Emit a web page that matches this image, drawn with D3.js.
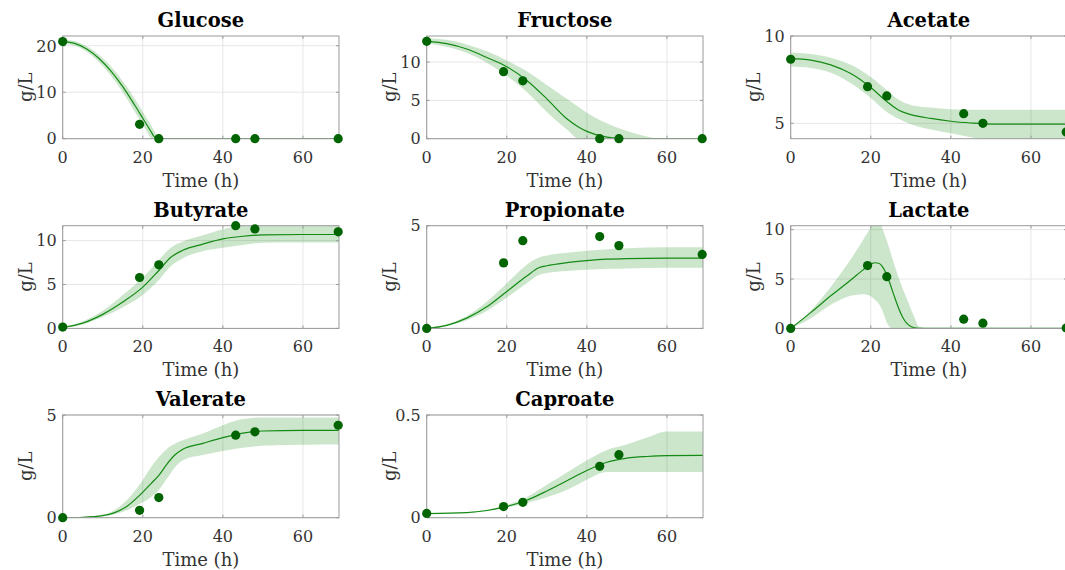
<!DOCTYPE html>
<html>
<head>
<meta charset="utf-8">
<script src="https://cdn.jsdelivr.net/npm/d3@7"></script>
<style>
  html, body { margin: 0; padding: 0; background: #fff; overflow: hidden; }
  svg { display: block; }
  text { font-family: "DejaVu Serif", "Liberation Serif", serif; }
</style>
</head>
<body>
<svg id="chart" width="1065" height="570"></svg>
<script>
// ---------------- DATA ----------------
const titles = ["Glucose", "Fructose", "Acetate", "Butyrate", "Propionate", "Lactate", "Valerate", "Caproate"];
const obsTime = [0, 19.2, 24, 43.2, 48, 68.8];
const xTicks = [0, 20, 40, 60];

// observations (g/L)
const glucoseObs    = [20.9, 3.1, 0, 0, 0, 0];
const fructoseObs   = [12.7, 8.75, 7.55, 0, 0, 0];
const acetateObs    = [8.67, 7.1, 6.57, 5.55, 5.0, 4.5];
const butyrateObs   = [0.15, 5.8, 7.24, 11.7, 11.33, 11.0];
const propionateObs = [0, 3.19, 4.27, 4.47, 4.03, 3.6];
const lactateObs    = [0, 6.36, 5.24, 0.93, 0.53, 0.05];
const valerateObs   = [0, 0.36, 0.98, 4.02, 4.18, 4.5];
const caproateObs   = [0.021, 0.054, 0.075, 0.25, 0.307, null];

// model fit (time knots, mean, lower, upper)
const glucoseT   = [0, 3, 6, 9, 12, 15, 18, 20, 21, 22, 23, 24, 69];
const glucoseFit = [20.9, 20.5, 19.3, 17.3, 14.6, 11.2, 7.2, 4.4, 3.0, 1.6, 0.3, 0, 0];
const glucoseHi  = [21.4, 21.0, 19.9, 18.1, 15.6, 12.4, 8.6, 5.8, 4.4, 3.0, 1.5, 0, 0];
const glucoseLo  = [20.4, 20.0, 18.7, 16.5, 13.6, 10.0, 5.8, 3.0, 1.6, 0.2, 0, 0, 0];

const fructoseT   = [0, 5, 10, 15, 20, 25, 30, 35, 38, 40, 45, 50, 55, 58, 69];
const fructoseFit = [12.7, 12.4, 11.7, 10.6, 9.4, 7.6, 5.2, 2.6, 1.5, 0.95, 0.2, 0, 0, 0, 0];
const fructoseHi  = [13.1, 12.9, 12.3, 11.4, 10.2, 8.8, 7.0, 5.2, 4.1, 3.4, 2.0, 1.0, 0.3, 0, 0];
const fructoseLo  = [12.4, 12.0, 11.2, 9.9, 8.2, 6.1, 3.5, 1.2, 0, 0, 0, 0, 0, 0, 0];

const acetateT   = [0, 5, 10, 15, 20, 24, 27, 30, 35, 40, 45, 50, 60, 69];
const acetateFit = [8.7, 8.62, 8.35, 7.85, 7.05, 6.25, 5.75, 5.5, 5.28, 5.12, 5.02, 4.96, 4.95, 4.95];
const acetateHi  = [9.05, 8.97, 8.75, 8.35, 7.65, 6.9, 6.35, 6.05, 5.9, 5.8, 5.78, 5.78, 5.78, 5.78];
const acetateLo  = [8.25, 8.17, 7.9, 7.3, 6.45, 5.65, 5.25, 4.95, 4.65, 4.43, 4.2, 4.05, 4.0, 4.0];

const butyrateT   = [0, 5, 10, 15, 20, 24, 27, 30, 35, 40, 45, 50, 60, 69];
const butyrateFit = [0.1, 0.6, 1.6, 3.0, 4.7, 6.6, 8.1, 8.9, 9.6, 10.2, 10.5, 10.65, 10.7, 10.7];
const butyrateHi  = [0.15, 0.8, 2.0, 3.8, 5.8, 7.8, 9.2, 9.9, 10.6, 11.3, 11.7, 11.8, 11.85, 11.85];
const butyrateLo  = [0.05, 0.45, 1.3, 2.4, 3.8, 5.5, 7.1, 8.0, 8.8, 9.2, 9.5, 9.75, 9.8, 9.8];

const propionateT   = [0, 5, 10, 15, 20, 25, 28, 30, 35, 40, 45, 50, 60, 69];
const propionateFit = [0, 0.15, 0.5, 1.05, 1.8, 2.55, 2.95, 3.05, 3.2, 3.3, 3.37, 3.4, 3.42, 3.42];
const propionateHi  = [0, 0.2, 0.6, 1.3, 2.2, 3.1, 3.45, 3.55, 3.68, 3.78, 3.85, 3.9, 3.95, 3.95];
const propionateLo  = [0, 0.12, 0.4, 0.85, 1.5, 2.2, 2.6, 2.7, 2.8, 2.85, 2.9, 2.92, 2.95, 2.95];

const lactateT   = [0, 5, 10, 15, 18, 20, 21, 22, 23, 24, 25, 26, 27, 28, 29, 30, 31, 32, 35, 69];
const lactateFit = [0, 1.6, 3.3, 4.9, 5.9, 6.5, 6.65, 6.6, 6.2, 5.4, 4.3, 3.1, 2.0, 1.1, 0.5, 0.2, 0.05, 0, 0, 0];
const lactateHi  = [0, 1.8, 4.2, 7.0, 8.9, 10.2, 10.7, 10.9, 10.0, 8.9, 7.6, 6.3, 5.1, 4.0, 3.0, 2.0, 1.0, 0.2, 0, 0];
const lactateLo  = [0, 1.0, 2.4, 3.3, 3.45, 3.25, 2.9, 2.5, 1.7, 0.6, 0.05, 0, 0, 0, 0, 0, 0, 0, 0, 0];

const valerateT   = [0, 5, 10, 13, 16, 19, 22, 24, 26, 28, 30, 35, 40, 45, 50, 60, 69];
const valerateFit = [0, 0.02, 0.1, 0.25, 0.55, 1.05, 1.65, 2.06, 2.6, 3.05, 3.33, 3.62, 3.9, 4.12, 4.22, 4.25, 4.25];
const valerateHi  = [0, 0.03, 0.15, 0.38, 0.85, 1.55, 2.45, 2.95, 3.35, 3.6, 3.77, 4.1, 4.5, 4.8, 4.88, 4.88, 4.88];
const valerateLo  = [0, 0.01, 0.07, 0.17, 0.35, 0.65, 1.0, 1.35, 1.9, 2.45, 2.8, 3.05, 3.25, 3.4, 3.5, 3.55, 3.56];

const caproateT   = [0, 10, 15, 20, 25, 30, 35, 40, 45, 50, 55, 60, 69];
const caproateFit = [0.02, 0.025, 0.035, 0.055, 0.085, 0.13, 0.18, 0.23, 0.27, 0.29, 0.298, 0.302, 0.303];
const caproateHi  = [0.02, 0.026, 0.038, 0.062, 0.1, 0.16, 0.22, 0.28, 0.33, 0.356, 0.39, 0.42, 0.42];
const caproateLo  = [0.02, 0.024, 0.033, 0.05, 0.072, 0.1, 0.135, 0.185, 0.222, 0.222, 0.222, 0.222, 0.222];

// y-axis limits and ticks
const yDomains = [[0, 22.1], [0, 13.4], [4.12, 10], [0, 11.7], [0, 5], [0, 10.4], [0, 5], [0, 0.5]];
const yTicks = [[0, 10, 20], [0, 5, 10], [5, 10], [0, 5, 10], [0, 5], [0, 5, 10], [0, 5], [0, 0.5]];

const obsList = [glucoseObs, fructoseObs, acetateObs, butyrateObs, propionateObs, lactateObs, valerateObs, caproateObs];
const tList   = [glucoseT, fructoseT, acetateT, butyrateT, propionateT, lactateT, valerateT, caproateT];
const fitList = [glucoseFit, fructoseFit, acetateFit, butyrateFit, propionateFit, lactateFit, valerateFit, caproateFit];
const hiList  = [glucoseHi, fructoseHi, acetateHi, butyrateHi, propionateHi, lactateHi, valerateHi, caproateHi];
const loList  = [glucoseLo, fructoseLo, acetateLo, butyrateLo, propionateLo, lactateLo, valerateLo, caproateLo];

// ---------------- LAYOUT ----------------
const colLeft = [62.7, 426.7, 790.7];
const rowTop = [36, 225.7, 415];
const W = 276.3, H = 102.7;
const boxColor = "#9a9a9a";
const gridColor = "#e6e6e6";
const tickText = "#333";
const dotColor = "#006400";
const lineColor = "#138a13";
const bandColor = "#008000";

const svg = d3.select("#chart");

titles.forEach((name, i) => {
  const r = Math.floor(i / 3), c = i % 3;
  const g = svg.append("g").attr("transform", `translate(${colLeft[c]},${rowTop[r]})`);
  const x = d3.scaleLinear().domain([0, 69]).range([0, W]);
  const y = d3.scaleLinear().domain(yDomains[i]).range([H, 0]);

  const clipId = "clip" + i;
  g.append("clipPath").attr("id", clipId).append("rect")
    .attr("x", 0).attr("y", 0).attr("width", W).attr("height", H);

  // grid
  g.append("g").selectAll("line").data(xTicks).join("line")
    .attr("x1", d => x(d)).attr("x2", d => x(d)).attr("y1", 0).attr("y2", H)
    .attr("stroke", gridColor).attr("stroke-width", 1);
  g.append("g").selectAll("line").data(yTicks[i]).join("line")
    .attr("x1", 0).attr("x2", W).attr("y1", d => y(d)).attr("y2", d => y(d))
    .attr("stroke", gridColor).attr("stroke-width", 1);

  // band + fit
  const T = tList[i];
  const pts = T.map((t, k) => ({ t, m: fitList[i][k], lo: loList[i][k], hi: hiList[i][k] }));
  const plot = g.append("g").attr("clip-path", `url(#${clipId})`);
  plot.append("path").datum(pts)
    .attr("d", d3.area().x(d => x(d.t)).y0(d => y(d.lo)).y1(d => y(d.hi)).curve(d3.curveMonotoneX))
    .attr("fill", bandColor).attr("fill-opacity", 0.2).attr("stroke", "none");
  plot.append("path").datum(pts)
    .attr("d", d3.line().x(d => x(d.t)).y(d => y(d.m)).curve(d3.curveMonotoneX))
    .attr("fill", "none").attr("stroke", lineColor).attr("stroke-width", 1.2);

  // box
  g.append("rect").attr("x", 0).attr("y", 0).attr("width", W).attr("height", H)
    .attr("fill", "none").attr("stroke", boxColor).attr("stroke-width", 1);

  // inward ticks on all sides
  const tl = 3;
  xTicks.forEach(d => {
    g.append("line").attr("x1", x(d)).attr("x2", x(d)).attr("y1", H).attr("y2", H - tl).attr("stroke", boxColor);
    g.append("line").attr("x1", x(d)).attr("x2", x(d)).attr("y1", 0).attr("y2", tl).attr("stroke", boxColor);
  });
  yTicks[i].forEach(d => {
    g.append("line").attr("x1", 0).attr("x2", tl).attr("y1", y(d)).attr("y2", y(d)).attr("stroke", boxColor);
    g.append("line").attr("x1", W).attr("x2", W - tl).attr("y1", y(d)).attr("y2", y(d)).attr("stroke", boxColor);
  });

  // tick labels
  g.append("g").selectAll("text").data(xTicks).join("text")
    .attr("x", d => x(d)).attr("y", H + 24)
    .attr("text-anchor", "middle").attr("font-size", 16).attr("fill", tickText)
    .text(d => d);
  g.append("g").selectAll("text").data(yTicks[i]).join("text")
    .attr("x", -6).attr("y", d => y(d)).attr("dy", "0.36em")
    .attr("text-anchor", "end").attr("font-size", 16).attr("fill", tickText)
    .text(d => d);

  // observations
  const obs = obsTime.map((t, k) => ({ t, v: obsList[i][k] })).filter(d => d.v !== null);
  g.append("g").selectAll("circle").data(obs).join("circle")
    .attr("cx", d => x(d.t)).attr("cy", d => y(d.v)).attr("r", 4.6)
    .attr("fill", dotColor);

  // labels
  g.append("text").attr("x", W / 2).attr("y", H + 48)
    .attr("text-anchor", "middle").attr("font-size", 18).attr("fill", tickText)
    .text("Time (h)");
  g.append("text").attr("transform", `translate(-31,${H / 2}) rotate(-90)`)
    .attr("text-anchor", "middle").attr("font-size", 18).attr("fill", tickText)
    .text("g/L");
  g.append("text").attr("x", W / 2).attr("y", -9)
    .attr("text-anchor", "middle").attr("font-size", 19.5).attr("font-weight", "bold").attr("fill", "#000")
    .text(name);
});
</script>
</body>
</html>
